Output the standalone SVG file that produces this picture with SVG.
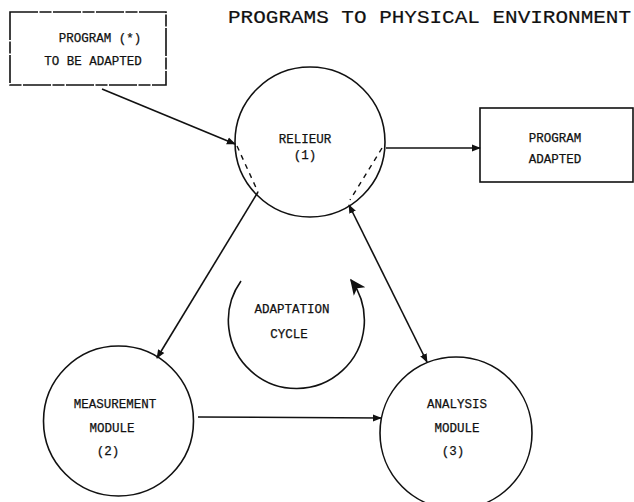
<svg xmlns="http://www.w3.org/2000/svg" width="634" height="502" viewBox="0 0 634 502">
<style>
.t{font-family:"Liberation Mono","DejaVu Sans Mono",monospace;font-size:12.5px;fill:#111;stroke:#111;stroke-width:0.25;text-anchor:middle}
.title{font-family:"Liberation Mono","DejaVu Sans Mono",monospace;font-size:19px;fill:#111;stroke:#111;stroke-width:0.2}
.n{fill:none;stroke:#111;stroke-width:1.6}
.c{fill:none;stroke:#111;stroke-width:1.6}
.d{fill:none;stroke:#111;stroke-width:1.4;stroke-dasharray:5 5}
</style>
<defs>
<marker id="ah" viewBox="0 0 10 10" refX="9" refY="5" markerWidth="9" markerHeight="9" markerUnits="userSpaceOnUse" orient="auto-start-reverse">
<path d="M0,1 L10,5 L0,9 Z" fill="#111"/>
</marker>
<marker id="ahb" viewBox="0 0 10 10" refX="9" refY="5" markerWidth="16" markerHeight="16" markerUnits="userSpaceOnUse" orient="auto">
<path d="M0,0.5 L10,5 L0,9.5 L2.5,5 Z" fill="#111"/>
</marker>
</defs>
<text class="title" x="228" y="23" textLength="403" lengthAdjust="spacingAndGlyphs">PROGRAMS TO PHYSICAL ENVIRONMENT</text>
<g id="program-in">
<rect class="n" x="10" y="12" width="156" height="73" stroke-dasharray="28 1.5 12 1.5"/>
<text class="t" x="100" y="42">PROGRAM (*)</text>
<text class="t" x="93" y="65">TO BE ADAPTED</text>
</g>
<g id="program-out">
<rect class="n" x="480" y="108" width="153" height="74"/>
<text class="t" x="555" y="142">PROGRAM</text>
<text class="t" x="555" y="163">ADAPTED</text>
</g>
<g id="relieur">
<circle class="n" cx="310" cy="142" r="75"/>
<text class="t" x="305" y="143">RELIEUR</text>
<text class="t" x="305" y="159">(1)</text>
<path class="d" d="M237,146 L258,192"/>
<path class="d" d="M382,148 L350,200"/>
</g>
<g id="measurement">
<circle class="n" cx="118.5" cy="421" r="75"/>
<text class="t" x="115" y="408">MEASUREMENT</text>
<text class="t" x="112" y="432">MODULE</text>
<text class="t" x="108" y="455">(2)</text>
</g>
<g id="analysis">
<circle class="n" cx="456" cy="433" r="76"/>
<text class="t" x="457" y="408">ANALYSIS</text>
<text class="t" x="457" y="432">MODULE</text>
<text class="t" x="453" y="455">(3)</text>
</g>
<g id="cycle">
<path class="c" d="M241,281 A68,68 0 1 0 351,280" marker-end="url(#ahb)"/>
<text class="t" x="292" y="313">ADAPTATION</text>
<text class="t" x="289" y="338">CYCLE</text>
</g>
<g id="connectors">
<path class="c" d="M102,89 L235,144" marker-end="url(#ah)"/>
<path class="c" d="M386,148 L480,148" marker-end="url(#ah)"/>
<path class="c" d="M258,192 L157,358" marker-end="url(#ah)"/>
<path class="c" d="M198,417 L381,418" marker-end="url(#ah)"/>
<path class="c" d="M349,205 L427,362" marker-start="url(#ah)" marker-end="url(#ah)"/>
</g>
</svg>
